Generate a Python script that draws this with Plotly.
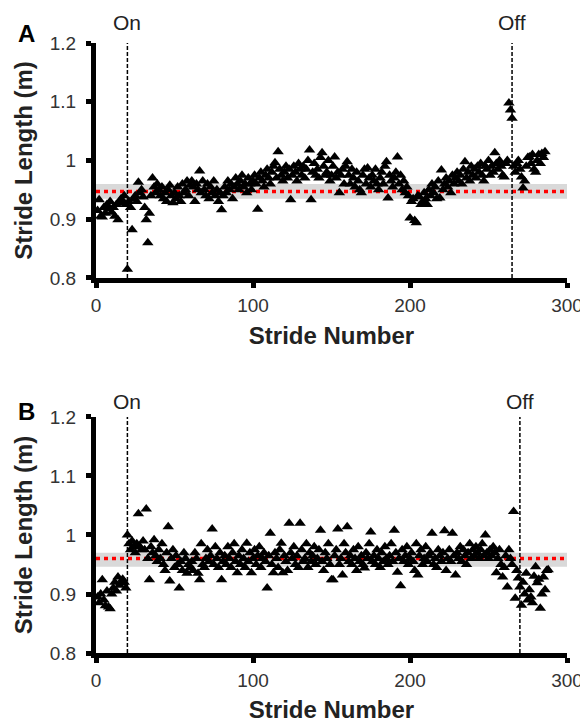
import plotly.graph_objects as go

# ---------------- data ----------------
panel_a_stride_length = [
    0.915, 0.933, 0.905, 0.904, 0.920, 0.910, 0.925, 0.918, 0.930, 0.912,
    0.920, 0.905, 0.925, 0.899, 0.930, 0.935, 0.928, 0.940, 0.925, 0.815,
    0.930, 0.920, 0.882, 0.935, 0.940, 0.930, 0.963, 0.945, 0.950, 0.938,
    0.920, 0.899, 0.860, 0.910, 0.940, 0.970, 0.955, 0.945, 0.960, 0.950,
    0.940, 0.955, 0.935, 0.945, 0.930, 0.950, 0.958, 0.940, 0.928, 0.945,
    0.935, 0.955, 0.940, 0.930, 0.960, 0.945, 0.950, 0.965, 0.940, 0.958,
    0.965, 0.955, 0.930, 0.960, 0.950, 0.982, 0.945, 0.965, 0.950, 0.940,
    0.960, 0.935, 0.955, 0.945, 0.965, 0.940, 0.950, 0.930, 0.945, 0.916,
    0.940, 0.955, 0.945, 0.965, 0.950, 0.960, 0.935, 0.955, 0.970, 0.960,
    0.950, 0.965, 0.975, 0.955, 0.960, 0.945, 0.970, 0.960, 0.950, 0.965,
    0.975, 0.960, 0.917, 0.970, 0.980, 0.965, 0.955, 0.975, 0.985, 0.970,
    0.960, 0.980, 0.990, 0.996, 0.970, 1.015, 0.985, 0.975, 0.965, 0.980,
    0.990, 0.970, 0.985, 0.933, 0.975, 0.990, 0.980, 0.965, 0.995, 0.985,
    0.975, 0.990, 0.970, 0.985, 1.000, 1.018, 0.933, 0.980, 0.995, 0.975,
    0.985, 0.970, 1.005, 1.013, 0.990, 0.975, 0.980, 1.000, 0.965, 0.975,
    0.990, 1.006, 0.970, 0.980, 0.945, 0.975, 0.985, 0.960, 0.990, 0.998,
    0.975, 0.960, 0.985, 0.970, 0.955, 0.980, 0.965, 0.950, 0.945, 0.975,
    0.985, 0.960, 0.987, 0.970, 0.955, 0.975, 0.965, 0.985, 0.960, 0.950,
    0.970, 0.980, 0.960, 0.990, 0.998, 0.936, 0.975, 0.965, 0.955, 0.970,
    0.980, 1.006, 0.960, 0.975, 0.950, 0.965, 0.945, 0.955, 0.940, 0.902,
    0.930, 0.935, 0.898, 0.894, 0.940, 0.938, 0.925, 0.930, 0.945, 0.935,
    0.925, 0.950, 0.940, 0.960, 0.945, 0.955, 0.935, 0.965, 0.936, 0.984,
    0.950, 0.960, 0.970, 0.955, 0.965, 0.945, 0.975, 0.960, 0.970, 0.980,
    0.965, 0.975, 0.960, 0.985, 0.998, 0.970, 0.980, 0.965, 0.990, 0.975,
    0.985, 0.970, 0.990, 0.980, 0.995, 0.975, 0.965, 0.990, 0.985, 1.000,
    0.975, 0.990, 0.980, 1.013, 0.995, 0.985, 1.000, 0.990, 0.975, 0.972,
    0.995, 1.000, 1.098, 1.086, 1.072, 0.990, 0.980, 0.995, 1.000, 0.985,
    0.972, 0.953, 0.965, 0.990, 1.005, 1.006, 0.995, 1.010, 0.985, 0.980,
    1.000, 1.010, 0.995, 1.012, 1.005, 1.015,
]

panel_b_stride_length = [
    0.895, 0.885, 0.900, 0.924, 0.890, 0.880, 0.905, 0.878, 0.875, 0.900,
    0.910, 0.920, 0.905, 0.929, 0.915, 0.919, 0.925, 0.920, 0.910, 1.000,
    0.985, 0.975, 0.990, 0.980, 0.970, 0.985, 1.036, 0.980, 0.975, 0.990,
    0.975, 1.044, 0.960, 0.924, 0.980, 0.970, 0.992, 0.965, 0.955, 0.975,
    0.960, 0.985, 0.950, 0.940, 0.970, 1.014, 0.922, 0.960, 0.975, 0.945,
    0.965, 0.950, 0.910, 0.955, 0.940, 0.970, 0.960, 0.935, 0.950, 0.945,
    0.955, 0.940, 0.970, 0.960, 0.935, 0.924, 0.985, 0.950, 0.945, 0.960,
    0.975, 0.955, 0.965, 1.010, 0.950, 0.980, 0.960, 0.945, 0.970, 0.924,
    0.955, 0.965, 0.950, 0.980, 0.960, 0.945, 0.970, 0.985, 0.955, 0.936,
    0.965, 0.950, 0.975, 0.960, 0.945, 0.986, 0.955, 0.970, 0.936, 0.960,
    0.975, 0.950, 0.965, 0.980, 0.945, 0.960, 0.970, 0.955, 0.910, 0.965,
    1.003, 0.950, 0.936, 0.970, 0.960, 0.945, 0.975, 0.986, 0.936, 0.965,
    0.955, 0.940, 1.020, 0.970, 0.960, 0.980, 0.950, 0.965, 0.945, 1.020,
    0.975, 0.955, 0.960, 0.985, 0.945, 0.970, 0.955, 0.965, 0.980, 0.950,
    0.960, 0.975, 1.008, 0.955, 0.940, 0.970, 0.960, 0.985, 0.950, 0.924,
    0.924, 0.965, 0.975, 1.010, 0.950, 0.960, 0.932, 0.985, 0.970, 1.014,
    0.955, 0.965, 0.950, 0.975, 0.960, 0.940, 0.980, 0.955, 0.965, 0.950,
    0.944, 0.970, 0.960, 0.985, 1.005, 0.955, 0.965, 0.950, 0.975, 0.960,
    0.945, 0.970, 0.955, 0.980, 0.960, 0.950, 0.965, 0.985, 0.955, 1.008,
    0.970, 0.937, 0.960, 0.914, 0.975, 0.955, 0.965, 0.980, 0.950, 0.960,
    0.970, 0.955, 0.940, 0.985, 0.932, 0.965, 0.975, 0.950, 0.960, 0.980,
    0.955, 0.965, 0.970, 1.003, 0.950, 0.960, 0.945, 0.975, 0.965, 0.955,
    0.970, 1.007, 0.940, 0.960, 0.975, 0.955, 1.003, 0.965, 0.932, 0.970,
    0.960, 0.980, 0.955, 0.975, 0.965, 0.950, 0.970, 0.985, 0.960, 0.975,
    0.965, 0.980, 0.970, 0.960, 0.975, 0.985, 0.965, 1.000, 0.970, 0.960,
    0.975, 0.965, 0.980, 0.970, 0.936, 0.960, 0.975, 0.950, 0.929, 0.945,
    0.965, 0.912, 0.975, 0.960, 0.950, 1.040, 0.893, 0.940, 0.927, 0.912,
    0.881, 0.920, 0.900, 0.935, 0.890, 0.907, 0.895, 0.885, 0.930, 0.946,
    0.919, 0.925, 0.876, 0.900, 0.929, 0.907, 0.940, 0.941,
]

panel_a_strides = list(range(1, len(panel_a_stride_length) + 1))
panel_b_strides = list(range(1, len(panel_b_stride_length) + 1))

panel_labels = ["A", "B"]
on_stride = [20, 20]
off_stride = [265, 270]
baseline_mean = [0.947, 0.960]
baseline_band_low = [0.935, 0.946]
baseline_band_high = [0.960, 0.970]

x_tick_vals = [0, 100, 200, 300]
y_tick_vals = [0.8, 0.9, 1.0, 1.1, 1.2]
y_tick_text = ["0.8", "0.9", "1", "1.1", "1.2"]

# ---------------- figure ----------------
FONT = "Liberation Sans, Arial, sans-serif"
fig = go.Figure()

series = [(panel_a_strides, panel_a_stride_length, "x", "y"),
          (panel_b_strides, panel_b_stride_length, "x2", "y2")]
for xs, ys, xa, ya in series:
    fig.add_trace(go.Scatter(
        x=xs, y=ys, xaxis=xa, yaxis=ya, mode="markers",
        marker=dict(symbol="triangle-up", size=10, color="black", line=dict(width=0)),
        showlegend=False, cliponaxis=False,
    ))

label_shift = [7, 2]
panel_shift = [10, 5]
shapes = []
annotations = []
for i, (xa, ya) in enumerate([("x", "y"), ("x2", "y2")]):
    shapes.append(dict(type="rect", xref=xa, yref=ya, x0=0, x1=300,
                       y0=baseline_band_low[i], y1=baseline_band_high[i],
                       fillcolor="#d9d9d9", line=dict(width=0), layer="below"))
    shapes.append(dict(type="line", xref=xa, yref=ya, x0=0, x1=300,
                       y0=baseline_mean[i], y1=baseline_mean[i],
                       line=dict(color="#ff0000", width=3.5, dash="4px,4px"), layer="below"))
    for s in (on_stride[i], off_stride[i]):
        shapes.append(dict(type="line", xref=xa, yref=ya, x0=s, x1=s, y0=0.8, y1=1.2,
                           line=dict(color="black", width=1.5, dash="4px,2px"), layer="below"))
    for s, t in ((on_stride[i], "On"), (off_stride[i], "Off")):
        annotations.append(dict(x=s, y=1.2, xref=xa, yref=ya, text=t, showarrow=False,
                                xanchor="center", yanchor="bottom", yshift=label_shift[i],
                                font=dict(family=FONT, size=21, color="#222")))
    annotations.append(dict(x=-0.1465, y=1.2, xref=("x" if i == 0 else "x2") + " domain", yref=ya,
                            text="<b>%s</b>" % panel_labels[i], showarrow=False,
                            xanchor="center", yanchor="middle", yshift=panel_shift[i],
                            font=dict(family=FONT, size=24, color="black")))

axis_common = dict(showline=True, linewidth=5, linecolor="black", mirror=False,
                   ticks="outside", ticklen=5, tickwidth=5, tickcolor="black",
                   showgrid=False, zeroline=False, automargin=False,
                   tickfont=dict(family=FONT, size=19, color="#333"))

xaxis_cfg = dict(axis_common, range=[0, 300], tickvals=x_tick_vals, ticklabelstandoff=1,
                 title=dict(text="<b>Stride Number</b>", standoff=14,
                            font=dict(family=FONT, size=24, color="#222")))
yaxis_cfg = dict(axis_common, range=[0.8, 1.2], tickvals=y_tick_vals, ticktext=y_tick_text,
                 ticklabelstandoff=6,
                 title=dict(text="<b>Stride Length (m)</b>", standoff=12,
                            font=dict(family=FONT, size=24, color="#222")))

# the page body has an 8px margin, so the figure is sized to fit the 588x723 window
fig.update_layout(
    width=580, height=715,
    margin=dict(l=88, r=21, t=35, b=70, autoexpand=False),
    plot_bgcolor="white", paper_bgcolor="white",
    xaxis=dict(xaxis_cfg, anchor="y", domain=[0, 1]),
    yaxis=dict(yaxis_cfg, anchor="x", domain=[0.6148, 1.0]),
    xaxis2=dict(xaxis_cfg, anchor="y2", domain=[0, 1]),
    yaxis2=dict(yaxis_cfg, anchor="x2", domain=[0.0, 0.3869]),
    shapes=shapes, annotations=annotations,
    font=dict(family=FONT),
)

fig.write_html("out.html")
